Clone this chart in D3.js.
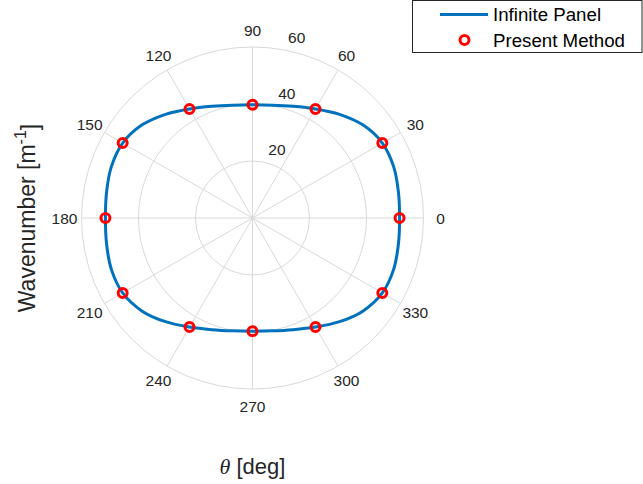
<!DOCTYPE html>
<html>
<head>
<meta charset="utf-8">
<script src="https://cdn.jsdelivr.net/npm/d3@7"></script>
<style>
  body { margin: 0; background: #fff; }
  svg { display: block; font-family: "Liberation Sans", Arial, sans-serif; }
</style>
</head>
<body>
<svg id="chart" width="643" height="484"></svg>
<script>
// angles (deg) and wavenumber of the continuous curve
const curveAngles = [0, 10, 20, 30, 40, 50, 60, 70, 80, 90, 100, 110, 120, 130, 140, 150, 160, 170,
                     180, 190, 200, 210, 220, 230, 240, 250, 260, 270, 280, 290, 300, 310, 320, 330, 340, 350];
const curveValues = [51.6, 52.0, 52.7, 52.6, 50.7, 47.5, 44.2, 41.7, 40.2, 39.7, 40.2, 41.7, 44.2, 47.5, 50.7, 52.6, 52.7, 52.0,
                     51.6, 52.0, 52.7, 52.6, 50.7, 47.5, 44.2, 41.7, 40.2, 39.7, 40.2, 41.7, 44.2, 47.5, 50.7, 52.6, 52.7, 52.0];

// markers (present method)
const markerAngles = [0, 30, 60, 90, 120, 150, 180, 210, 240, 270, 300, 330];
const markerValues = [51.6, 52.6, 44.2, 39.7, 44.2, 52.6, 51.6, 52.6, 44.2, 39.7, 44.2, 52.6];

// ticks
const thetaTicks = [0, 30, 60, 90, 120, 150, 180, 210, 240, 270, 300, 330];
const rTicks = [20, 40, 60];
const rMax = 60;

const cx = 252.5, cy = 218, R = 171;
const gridColor = "#d9d9d9", textColor = "#262626";

const svg = d3.select("#chart");
const g = svg.append("g").attr("transform", `translate(${cx},${cy})`);

// Escala radial
const r = d3.scaleLinear().domain([0, rMax]).range([0, R]);
const rad = d => d * Math.PI / 180;
// coordenades (angle matemàtic, antihorari des de l'est)
const px = (a, v) => r(v) * Math.cos(rad(a));
const py = (a, v) => -r(v) * Math.sin(rad(a));

// cercles de la graella
g.selectAll(".ring")
    .data(rTicks)
    .enter()
    .append("circle")
    .attr("r", d => r(d))
    .attr("fill", "none")
    .attr("stroke", gridColor)
    .attr("stroke-width", 1);

// radis
g.selectAll(".spoke")
    .data(thetaTicks)
    .enter()
    .append("line")
    .attr("x1", 0).attr("y1", 0)
    .attr("x2", d => px(d, rMax))
    .attr("y2", d => py(d, rMax))
    .attr("stroke", gridColor)
    .attr("stroke-width", 1);

// etiquetes angulars
g.selectAll(".theta-label")
    .data(thetaTicks)
    .enter()
    .append("text")
    .attr("x", d => (R + 17) * Math.cos(rad(d)))
    .attr("y", d => -(R + 17) * Math.sin(rad(d)))
    .attr("text-anchor", "middle")
    .attr("dominant-baseline", "central")
    .attr("font-size", "15.5px")
    .attr("fill", textColor)
    .text(d => d);

// etiquetes radials (a 80 graus)
g.selectAll(".r-label")
    .data(rTicks)
    .enter()
    .append("text")
    .attr("x", d => px(80, d) + 14.5)
    .attr("y", d => py(80, d) - 12.4)
    .attr("text-anchor", "middle")
    .attr("dominant-baseline", "central")
    .attr("font-size", "15.5px")
    .attr("fill", textColor)
    .text(d => d);

// corba
const curveData = curveAngles.map((a, i) => ({ a: a, v: curveValues[i] }));
const line = d3.lineRadial()
    .angle(d => rad(90 - d.a))
    .radius(d => r(d.v))
    .curve(d3.curveCatmullRomClosed);

g.append("path")
    .datum(curveData)
    .attr("d", line)
    .attr("fill", "none")
    .attr("stroke", "#0072BD")
    .attr("stroke-width", 3);

// marcadors
const markerData = markerAngles.map((a, i) => ({ a: a, v: markerValues[i] }));
g.selectAll(".marker")
    .data(markerData)
    .enter()
    .append("circle")
    .attr("cx", d => px(d.a, d.v))
    .attr("cy", d => py(d.a, d.v))
    .attr("r", 4.5)
    .attr("fill", "none")
    .attr("stroke", "#ff0000")
    .attr("stroke-width", 3);

// Etiqueta eix Y
svg.append("text")
    .attr("transform", "translate(27,218) rotate(-90)")
    .attr("text-anchor", "middle")
    .attr("dominant-baseline", "central")
    .attr("font-size", "23px")
    .attr("fill", textColor)
    .call(t => {
        t.append("tspan").text("Wavenumber [m");
        t.append("tspan").attr("dy", "-0.45em").attr("font-size", "16px").text("-1");
        t.append("tspan").attr("dy", "0.45em").text("]");
    });

// Etiqueta eix X
svg.append("text")
    .attr("x", cx)
    .attr("y", 474)
    .attr("text-anchor", "middle")
    .attr("font-size", "22px")
    .attr("fill", textColor)
    .call(t => {
        t.append("tspan").attr("font-family", "'Liberation Serif', 'DejaVu Serif', serif")
            .attr("font-style", "italic").text("θ");
        t.append("tspan").text(" [deg]");
    });

// Llegenda
const leg = svg.append("g");
leg.append("rect")
    .attr("x", 412.5).attr("y", 0.5)
    .attr("width", 229.5).attr("height", 52)
    .attr("fill", "#fff")
    .attr("stroke", textColor)
    .attr("stroke-width", 1);
leg.append("line")
    .attr("x1", 440).attr("x2", 488)
    .attr("y1", 14.5).attr("y2", 14.5)
    .attr("stroke", "#0072BD")
    .attr("stroke-width", 3);
leg.append("circle")
    .attr("cx", 464.5).attr("cy", 40)
    .attr("r", 4.5)
    .attr("fill", "none")
    .attr("stroke", "#ff0000")
    .attr("stroke-width", 3);
leg.selectAll(".leg-text")
    .data(["Infinite Panel", "Present Method"])
    .enter()
    .append("text")
    .attr("x", 493)
    .attr("y", (d, i) => 14 + i * 26)
    .attr("dominant-baseline", "central")
    .attr("font-size", "18.7px")
    .attr("fill", "#000")
    .text(d => d);
</script>
</body>
</html>
